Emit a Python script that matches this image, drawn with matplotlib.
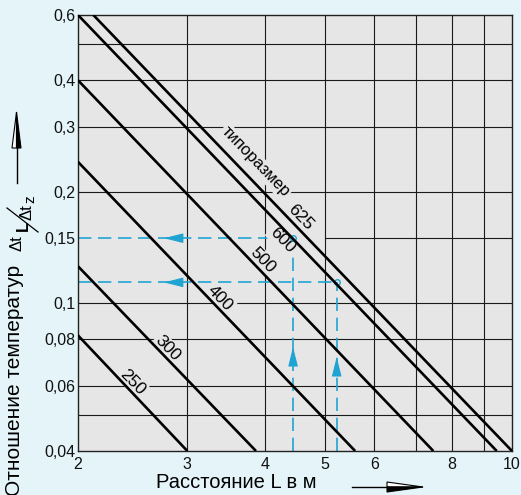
import matplotlib
matplotlib.use("Agg")
import matplotlib.pyplot as plt
from matplotlib.lines import Line2D
from matplotlib.patches import Polygon
from matplotlib.ticker import FixedLocator, FixedFormatter, NullLocator

plt.rcParams['font.family'] = ['Liberation Sans', 'DejaVu Sans']

sizes = ['250', '300', '400', '500', '600', '625']
x_start = [2.0, 2.0, 2.0, 2.0, 2.0, 2.117]
y_start = [0.082, 0.126, 0.241, 0.40, 0.60, 0.60]
x_end = [3.0, 3.87, 5.59, 7.47, 9.45, 10.0]
y_end = [0.04, 0.04, 0.04, 0.04, 0.04, 0.04]

# label positions for each size line
label_x = [2.45, 2.79, 3.39, 3.97, 4.26, 4.57]
label_y = [0.0614, 0.0758, 0.1035, 0.131, 0.148, 0.171]

# example reading (blue dashed guides)
guide_x = [4.44, 5.22]
guide_y = [0.15, 0.114]
harrow_tip_x, harrow_base_x = 2.75, 2.93
varrow_tip_y = [0.0763, 0.0717]
varrow_base_y = [0.0687, 0.0649]

x_ticks = [2, 3, 4, 5, 6, 7, 8, 9, 10]
x_labels = ['2', '3', '4', '5', '6', '', '8', '', '10']
y_ticks = [0.04, 0.05, 0.06, 0.08, 0.1, 0.15, 0.2, 0.3, 0.4, 0.5, 0.6]
y_labels = ['0,04', '', '0,06', '0,08', '0,1', '0,15', '0,2', '0,3', '0,4', '', '0,6']

BG = '#e4f4f9'
AX_BG = '#e6e6e6'
BLUE = '#1fa3d2'
W, H = 521, 495

fig = plt.figure(figsize=(W / 100, H / 100), dpi=100, facecolor=BG)
ax = fig.add_axes([78 / W, 1 - 451 / H, 434 / W, 436 / H])
ax.set_facecolor(AX_BG)
ax.set_xscale('log')
ax.set_yscale('log')
ax.set_xlim(2, 10)
ax.set_ylim(0.04, 0.6)

ax.xaxis.set_major_locator(FixedLocator(x_ticks))
ax.xaxis.set_major_formatter(FixedFormatter(x_labels))
ax.xaxis.set_minor_locator(NullLocator())
ax.yaxis.set_major_locator(FixedLocator(y_ticks))
ax.yaxis.set_major_formatter(FixedFormatter(y_labels))
ax.yaxis.set_minor_locator(NullLocator())
ax.tick_params(axis='both', length=0, labelsize=11.5, colors='#111111')
ax.tick_params(axis='x', pad=4)
ax.tick_params(axis='y', pad=2)
for sp in ax.spines.values():
    sp.set_color('#222222')
    sp.set_linewidth(1.0)

# grid drawn by hand: the 0.15 line only starts at x=5 (left part is the guide)
for xv in x_ticks[1:-1]:
    ax.plot([xv, xv], [0.04, 0.6], color='#1a1a1a', lw=0.8, zorder=1)
for yv in y_ticks[1:-1]:
    x0 = 5 if yv == 0.15 else 2
    ax.plot([x0, 10], [yv, yv], color='#1a1a1a', lw=0.8, zorder=1)

# blue dashed guides
for gx, gy, tip_y, base_y in zip(guide_x, guide_y, varrow_tip_y, varrow_base_y):
    ax.plot([2, gx], [gy, gy], color=BLUE, lw=1.2, dashes=(8, 4), zorder=1.5)
    ax.plot([gx, gx], [0.04, gy], color=BLUE, lw=1.2, dashes=(8, 4), zorder=1.5)
    ax.plot([gx], [gy], marker='o', ms=4, mfc='none', mec=BLUE, mew=1, zorder=3)
    ax.annotate('', xy=(harrow_tip_x, gy), xytext=(harrow_base_x, gy),
                arrowprops=dict(arrowstyle='-|>,head_length=1.2,head_width=0.3',
                                color=BLUE, lw=0.8, shrinkA=0, shrinkB=0), zorder=3)
    ax.annotate('', xy=(gx, tip_y), xytext=(gx, base_y),
                arrowprops=dict(arrowstyle='-|>,head_length=1.2,head_width=0.3',
                                color=BLUE, lw=0.8, shrinkA=0, shrinkB=0), zorder=3)

# size lines
for xs, ys, xe, ye in zip(x_start, y_start, x_end, y_end):
    ax.plot([xs, xe], [ys, ye], color='black', lw=1.9, solid_capstyle='butt', zorder=4)

box = dict(facecolor=AX_BG, edgecolor='none', pad=1)
for s, lx, ly in zip(sizes, label_x, label_y):
    ax.text(lx, ly, s, rotation=-46, ha='center', va='center', fontsize=12.5,
            rotation_mode='anchor', bbox=box, zorder=2)
ax.text(3.86, 0.241, 'типоразмер', rotation=-46, ha='center', va='center',
        fontsize=12, rotation_mode='anchor', bbox=box, zorder=2)


def fx(px):
    return px / W


def fy(py):
    return 1 - py / H


# axis titles
fig.text(fx(236), fy(482), 'Расстояние L в м', ha='center', va='center', fontsize=14.5)
fig.text(fx(15), fy(380), 'Отношение температур', ha='center', va='center',
         rotation=90, fontsize=15)

# slanted fraction  Δt_L / Δt_z
fig.text(fx(17), fy(243), 'Δt', rotation=90, ha='center', va='center', fontsize=12)
fig.text(fx(23.5), fy(226), 'L', rotation=90, ha='center', va='center',
         fontsize=12, fontweight='bold')
fig.text(fx(27), fy(212), 'Δt', rotation=90, ha='center', va='center', fontsize=12)
fig.text(fx(30), fy(199), 'z', rotation=90, ha='center', va='center', fontsize=11)
fig.add_artist(Line2D([fx(7), fx(38)], [fy(208), fy(232)], color='black', lw=0.9,
                      transform=fig.transFigure))

# y direction arrow (split head: left white, right black)
fig.add_artist(Line2D([fx(16.5), fx(16.5)], [fy(183), fy(146)], color='black', lw=1.0,
                      transform=fig.transFigure))
fig.add_artist(Polygon([[fx(12), fy(148)], [fx(16.5), fy(112)], [fx(16.5), fy(148)]],
                       closed=True, facecolor='white', edgecolor='black', lw=0.8,
                       transform=fig.transFigure))
fig.add_artist(Polygon([[fx(16.5), fy(148)], [fx(16.5), fy(112)], [fx(21), fy(148)]],
                       closed=True, facecolor='black', edgecolor='black', lw=0.8,
                       transform=fig.transFigure))

# x direction arrow (split head: top white, bottom black)
fig.add_artist(Line2D([fx(352), fx(389)], [fy(487), fy(487)], color='black', lw=1.0,
                      transform=fig.transFigure))
fig.add_artist(Polygon([[fx(387), fy(482)], [fx(423), fy(487)], [fx(387), fy(487)]],
                       closed=True, facecolor='white', edgecolor='black', lw=0.8,
                       transform=fig.transFigure))
fig.add_artist(Polygon([[fx(387), fy(487)], [fx(423), fy(487)], [fx(387), fy(492)]],
                       closed=True, facecolor='black', edgecolor='black', lw=0.8,
                       transform=fig.transFigure))

fig.savefig('out.png', dpi=100, facecolor=BG)
